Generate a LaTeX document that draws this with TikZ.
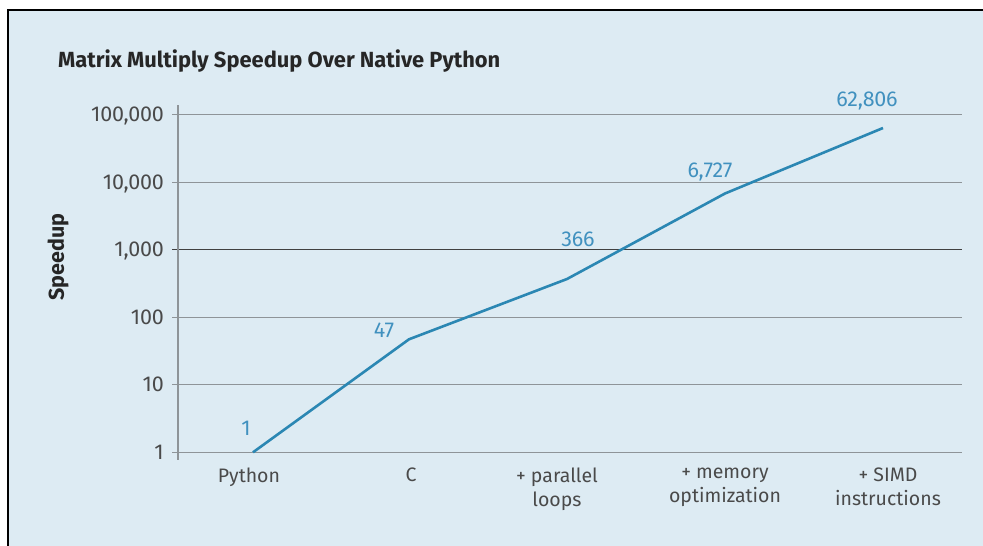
\documentclass[tikz,border=0pt]{standalone}
\usepackage{fontspec}
\setmainfont{Fira Sans}
\definecolor{bgblue}{HTML}{DDEBF3}
\definecolor{gridgray}{HTML}{8E9498}
\definecolor{txtgray}{HTML}{4A4A4A}
\definecolor{lineblue}{HTML}{2B87B3}
\definecolor{lblblue}{HTML}{4191BF}
\tikzset{
	ticklbl/.style={anchor=east,text=txtgray,font=\fontsize{21.5}{25}\selectfont\addfontfeatures{LetterSpace=-1},text depth=0pt,inner sep=0pt},
	catlbl/.style={anchor=north,align=center,text=txtgray,font=\fontsize{19.5}{24}\selectfont,inner sep=0pt},
	vallbl/.style={text=lblblue,font=\fontsize{21.5}{25}\selectfont\addfontfeatures{LetterSpace=-1},text depth=0pt,inner sep=0pt},
	grid line/.style={gridgray,line width=1.3pt}
}
\begin{document}
\begin{tikzpicture}[x=1pt,y=-1pt]
	\useasboundingbox (0,0) rectangle (983,546);
	\fill[bgblue] (8,10) rectangle (983,546);
	\draw[line width=2pt] (8,546) -- (8,10) -- (983,10);
	% title and axis name
	\node[anchor=west,text=black!85,font=\fontsize{21.9}{25}\selectfont\bfseries,inner sep=0pt] (title) at (58,61) {Matrix Multiply Speedup Over Native Python};
	\node[rotate=90,text=black!85,font=\fontsize{21.5}{25}\selectfont\bfseries,inner sep=0pt] (yname) at (58,257) {Speedup};
	% grid
	\draw[grid line] (172,114.5) -- (962,114.5);
	\draw[grid line] (172,182.5) -- (962,182.5);
	\draw[black!75,line width=1.5pt] (172,249.5) -- (962,249.5);
	\draw[grid line] (172,317.5) -- (962,317.5);
	\draw[grid line] (172,384.5) -- (962,384.5);
	\draw[grid line] (172,452.5) -- (962,452.5);
	\draw[grid line] (178,105) -- (178,460);
	% tick labels
	\node[ticklbl] (t5) at (164,114.5) {100,000};
	\node[ticklbl] (t4) at (164,182.5) {10,000};
	\node[ticklbl] (t3) at (164,249.5) {1,000};
	\node[ticklbl] (t2) at (164,317.5) {100};
	\node[ticklbl] (t1) at (164,384.5) {10};
	\node[ticklbl] (t0) at (164,452.5) {1};
	% data
	\coordinate (python) at (253,452.3);
	\coordinate (c) at (409,339.3);
	\coordinate (parallel) at (567,279);
	\coordinate (memory) at (725,193.5);
	\coordinate (simd) at (883,128);
	\draw[lineblue,line width=2.6pt,line join=round] (python) -- (c) -- (parallel) -- (memory) -- (simd);
	\node[vallbl] (v1) at (246,428) {1};
	\node[vallbl] (v2) at (384,330) {47};
	\node[vallbl] (v3) at (578,239) {366};
	\node[vallbl] (v4) at (710,170) {6,727};
	\node[vallbl] (v5) at (867,99) {62,806};
	% categories
	\node[catlbl] (l1) at (249,468) {Python};
	\node[catlbl] (l2) at (411,468) {C};
	\node[catlbl] (l3) at (557,468) {+ parallel\\loops};
	\node[catlbl] (l4) at (725,468) {+ memory\\optimization};
	\node[catlbl] (l5) at (888,468) {+ SIMD\\instructions};
\end{tikzpicture}
\end{document}
